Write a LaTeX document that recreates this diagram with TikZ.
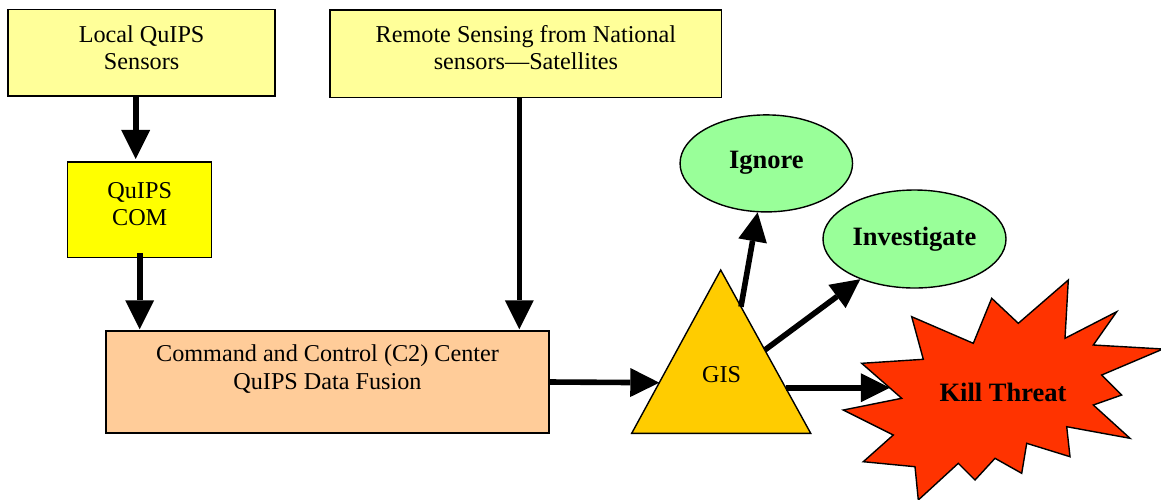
\documentclass[tikz,border=0pt]{standalone}
\usepackage{fontspec}
\setmainfont{Liberation Serif}
\usetikzlibrary{arrows.meta,shapes.geometric,calc}

\definecolor{paleyellow}{HTML}{FFFF99}
\definecolor{brightyellow}{HTML}{FFFF00}
\definecolor{peach}{HTML}{FFCC99}
\definecolor{amber}{HTML}{FFCC00}
\definecolor{mint}{HTML}{99FF99}
\definecolor{blast}{HTML}{FF3300}

\tikzset{
  box/.style={draw=black, line width=1.4pt, inner sep=0pt},
  oval/.style={ellipse, draw=black, line width=1.4pt, fill=mint, inner sep=0pt,
               font=\fontsize{26.5}{30}\selectfont\bfseries},
  label txt/.style={align=center, inner sep=0pt, font=\fontsize{24.2}{27.5}\selectfont},
  arr/.style={line width=5.6pt, -{Triangle[length=29pt,width=29pt,line width=0pt]}},
}

\begin{document}
\begin{tikzpicture}[x=1pt, y=-1pt]
\useasboundingbox (0,0) rectangle (1161,499);

% input boxes
\node[box, fill=paleyellow, minimum width=267, minimum height=86.5] (local) at (141.6,52.6) {};
\node[label txt] (localtxt) at (141.6,47.8) {Local QuIPS\\Sensors};
\node[box, fill=paleyellow, minimum width=391.5, minimum height=87.5] (remote) at (525.9,53.9) {};
\node[label txt] (remotetxt) at (525.9,47.8) {Remote Sensing from National\\sensors---Satellites};
\node[box, fill=brightyellow, minimum width=144, minimum height=95.5] (com) at (139.7,209.9) {};
\node[label txt] (comtxt) at (139.7,204) {QuIPS\\COM};

% fusion centre
\node[box, fill=peach, minimum width=443, minimum height=102] (c2) at (327.5,382) {};
\node[label txt] (c2txt) at (327.5,369) {Command and Control (C2) Center\\QuIPS Data Fusion};

% GIS triangle
\coordinate (apex) at (720.7,270);
\coordinate (bl) at (631.7,433.3);
\coordinate (br) at (810.7,433.3);
\filldraw[fill=amber, draw=black, line width=1.4pt, line join=miter] (bl) -- (apex) -- (br) -- cycle;
\node[label txt] (gis) at (721.7,375) {GIS};

% outcomes
\node[oval, minimum width=172.5, minimum height=97] (ignore) at (766.3,163.4) {\raisebox{8pt}{Ignore}};
\node[oval, minimum width=183, minimum height=98] (investigate) at (914.5,239) {Investigate};

% starburst
\filldraw[fill=blast, draw=black, line width=1.4pt, line join=miter]
  (861.7,363.3) -- (923.3,359.3) -- (911.7,316.7) -- (973.3,343.3) -- (991.7,298.3)
  -- (1018.3,323.3) -- (1068.3,280) -- (1065,338.3) -- (1116.7,311.7) -- (1093.3,345)
  -- (1163,349) -- (1101.7,375) -- (1121.7,395) -- (1093.3,405) -- (1130,438.3)
  -- (1066.7,426.7) -- (1070,456.7) -- (1026.7,443.3) -- (1021.7,473.3) -- (995,458.3)
  -- (975,480) -- (958.3,463.3) -- (918.3,500) -- (915,466.7) -- (863.3,461.7)
  -- (893.3,435) -- (843.3,410) -- (901.7,398.3) -- cycle;
\node[inner sep=0pt, minimum width=226, font=\fontsize{26.5}{30}\selectfont\bfseries] (kill)
  at (1003,392) {Kill Threat};

% connectors
\draw[arr] ([xshift=-5.9pt]local.south) -- ([xshift=-5.9pt,yshift=2.5pt]local.south |- com.north);
\draw[arr] ([yshift=5pt]com.south) -- ([yshift=1pt]com.south |- c2.north);
\draw[arr] ([xshift=-6.6pt]remote.south) -- ([xshift=-6.6pt,yshift=1pt]remote.south |- c2.north);
\draw[arr] (c2.east) -- ($(bl)!0.31!(apex)$);
\draw[arr] ($(br)!0.775!(apex)$) -- (ignore);
\draw[arr] ($(br)!0.51!(apex)$) -- (investigate);
\coordinate (killfrom) at ($(br)!0.279!(apex)$);
\draw[arr] (killfrom) -- (killfrom -| kill.west);
\end{tikzpicture}
\end{document}
